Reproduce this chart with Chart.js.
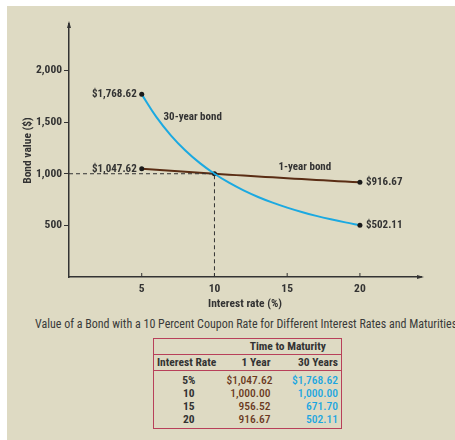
<!DOCTYPE html>
<html>
<head>
<meta charset="utf-8">
<script src="https://cdn.jsdelivr.net/npm/chart.js@4.4.1/dist/chart.umd.min.js"></script>
<style>
  body { margin: 0; background: #fff; }
  #panel { position: absolute; left: 7px; top: 6px; width: 448px; height: 434px; background: #dedac3; overflow: hidden; }
  #chartBox { position: absolute; left: 0; top: 0; width: 448px; height: 305px; }
  #caption { position: absolute; left: 28px; top: 311px; white-space: nowrap; font: 12px 'Roboto Condensed', 'Open Sans', sans-serif; color: #3a3a3a; }
  #tbl { position: absolute; left: 146px; top: 332px; width: 188px; table-layout: fixed; border: 1.5px solid #b8405a; border-collapse: collapse; font: bold 11.5px 'Roboto Condensed', 'Open Sans', sans-serif; color: #333; white-space: nowrap; }
  #tbl td, #tbl th { padding: 0 3px; height: 13px; line-height: 13px; }
  #tbl .hdr th { border-bottom: 1.5px solid #b8405a; height: 15px; padding: 0 3px; }
  #tbl .one { color: #6b3a1f; text-align: right; font-weight: 500; }
  #tbl .thirty { color: #1ba6e0; text-align: right; font-weight: 500; }
  #tbl .rate { text-align: center; }
</style>
</head>
<body>
<div id="panel">
  <div id="chartBox"><canvas id="bondChart"></canvas></div>
  <div id="caption">Value of a Bond with a 10 Percent Coupon Rate for Different Interest Rates and Maturities</div>
  <table id="tbl"><colgroup><col style="width:70px"><col style="width:50px"><col style="width:68px"></colgroup><tbody id="tbody"></tbody></table>
</div>
<script>
// Data
const rates = [5, 6, 7, 8, 9, 10, 11, 12, 13, 14, 15, 16, 17, 18, 19, 20];
const oneYearBond = [1047.62, 1037.74, 1028.04, 1018.52, 1009.17, 1000.00, 990.99, 982.14, 973.45, 964.91, 956.52, 948.28, 940.17, 932.20, 924.37, 916.67];
const thirtyYearBond = [1768.62, 1550.59, 1372.27, 1225.16, 1102.74, 1000.00, 913.06, 838.90, 775.13, 719.89, 671.70, 629.37, 591.94, 558.66, 528.88, 502.11];
const yTicks = [500, 1000, 1500, 2000];
const xTicks = [5, 10, 15, 20];

// Table rows
const tableRates = ['5%', '10', '15', '20'];
const tableOneYear = ['$1,047.62', '1,000.00', '956.52', '916.67'];
const tableThirtyYear = ['$1,768.62', '1,000.00', '671.70', '502.11'];

const FONT = "'Roboto Condensed', 'Open Sans', sans-serif";
const AXIS = '#333';
const BROWN = '#5a2d14';
const CYAN = '#1ba9e1';

// Build table
const tbody = document.getElementById('tbody');
let html = '<tr class="hdr"><th></th><th colspan="2" style="text-align:center;padding-left:14px">Time to Maturity</th></tr>';
html += '<tr class="hdr"><th style="text-align:left">Interest Rate</th><th style="text-align:right">1 Year</th><th style="text-align:right">30 Years</th></tr>';
tableRates.forEach((r, i) => {
  const pad = i === 0 ? 'padding-top:3px;' : (i === tableRates.length - 1 ? 'padding-bottom:2px;' : '');
  html += `<tr><td class="rate" style="${pad}">${r}</td><td class="one" style="${pad}">${tableOneYear[i]}</td><td class="thirty" style="${pad}">${tableThirtyYear[i]}</td></tr>`;
});
tbody.innerHTML = html;

// Markers only at labelled points
const oneYearMarks = [5, 10, 20];
const thirtyYearMarks = [5, 20];

const decorPlugin = {
  id: 'decor',
  afterDatasetsDraw(chart) {
    const { ctx, chartArea, scales: { x, y } } = chart;
    ctx.save();
    // dashed guide lines at par
    ctx.strokeStyle = AXIS;
    ctx.lineWidth = 1;
    ctx.setLineDash([4, 3]);
    ctx.beginPath();
    ctx.moveTo(chartArea.left, y.getPixelForValue(1000));
    ctx.lineTo(x.getPixelForValue(10), y.getPixelForValue(1000));
    ctx.lineTo(x.getPixelForValue(10), chartArea.bottom);
    ctx.stroke();
    ctx.setLineDash([]);

    // x tick marks pointing up
    xTicks.forEach(v => {
      const px = x.getPixelForValue(v);
      ctx.beginPath();
      ctx.moveTo(px, chartArea.bottom);
      ctx.lineTo(px, chartArea.bottom - 4);
      ctx.stroke();
    });

    // arrow heads
    ctx.fillStyle = AXIS;
    ctx.beginPath();
    ctx.moveTo(chartArea.left, chartArea.top - 3);
    ctx.lineTo(chartArea.left - 2, chartArea.top + 4);
    ctx.lineTo(chartArea.left + 2, chartArea.top + 4);
    ctx.fill();
    ctx.beginPath();
    ctx.moveTo(chartArea.right + 3, chartArea.bottom);
    ctx.lineTo(chartArea.right - 4, chartArea.bottom - 2);
    ctx.lineTo(chartArea.right - 4, chartArea.bottom + 2);
    ctx.fill();

    // value labels
    ctx.font = 'bold 11px ' + FONT;
    ctx.fillStyle = '#333';
    ctx.textBaseline = 'middle';
    const lbl = (xv, yv, text, side) => {
      const px = x.getPixelForValue(xv);
      const py = y.getPixelForValue(yv);
      ctx.textAlign = side === 'left' ? 'right' : 'left';
      ctx.fillText(text, side === 'left' ? px - 5 : px + 6, py);
    };
    lbl(5, thirtyYearBond[0], '$1,768.62', 'left');
    lbl(5, oneYearBond[0], '$1,047.62', 'left');
    lbl(20, oneYearBond[oneYearBond.length - 1], '$916.67', 'right');
    lbl(20, thirtyYearBond[thirtyYearBond.length - 1], '$502.11', 'right');

    // series names
    ctx.textAlign = 'left';
    ctx.fillText('30-year bond', x.getPixelForValue(6.5), y.getPixelForValue(1545));
    ctx.fillText('1-year bond', x.getPixelForValue(14.4), y.getPixelForValue(1062));
    ctx.restore();
  }
};

const ctx = document.getElementById('bondChart');
new Chart(ctx, {
  type: 'line',
  data: {
    datasets: [
      {
        label: '30-year bond',
        data: rates.map((r, i) => ({ x: r, y: thirtyYearBond[i] })),
        borderColor: CYAN,
        borderWidth: 2,
        tension: 0.4,
        pointRadius: c => thirtyYearMarks.includes(rates[c.dataIndex]) ? 2.5 : 0,
        pointBackgroundColor: '#1a1a1a',
        pointBorderWidth: 0,
      },
      {
        label: '1-year bond',
        data: rates.map((r, i) => ({ x: r, y: oneYearBond[i] })),
        borderColor: BROWN,
        borderWidth: 2,
        tension: 0.4,
        pointRadius: c => oneYearMarks.includes(rates[c.dataIndex]) ? 2.5 : 0,
        pointBackgroundColor: '#1a1a1a',
        pointBorderWidth: 0,
      },
    ],
  },
  options: {
    responsive: true,
    maintainAspectRatio: false,
    animation: false,
    layout: { padding: { top: 18, right: 34, left: 0, bottom: 0 } },
    plugins: { legend: { display: false }, tooltip: { enabled: false } },
    scales: {
      x: {
        type: 'linear',
        min: 0,
        max: 24.2,
        afterBuildTicks: s => { s.ticks = xTicks.map(v => ({ value: v })); },
        afterFit: s => { s.height = 34; },
        grid: { display: true, drawOnChartArea: false, drawTicks: false },
        border: { display: true, color: AXIS, width: 1.5 },
        ticks: { color: '#333', padding: 5, font: { family: FONT, size: 11.5, weight: 'bold' } },
        title: { display: true, text: 'Interest rate (%)', color: '#333', padding: 0, font: { family: FONT, size: 11.5, weight: 'bold' } },
      },
      y: {
        min: 0,
        max: 2450,
        afterBuildTicks: s => { s.ticks = yTicks.map(v => ({ value: v })); },
        afterFit: s => { s.width = 62; },
        grid: { display: true, drawOnChartArea: false, drawTicks: true, tickLength: 5, color: AXIS },
        border: { display: true, color: AXIS, width: 1.5 },
        ticks: { color: '#333', padding: 2, font: { family: FONT, size: 11.5, weight: 'bold' }, callback: v => v.toLocaleString('en-US') },
        title: { display: true, text: 'Bond value ($)', color: '#333', padding: { top: 14 }, font: { family: FONT, size: 11.5, weight: 'bold' } },
      },
    },
  },
  plugins: [decorPlugin],
});
</script>
</body>
</html>
